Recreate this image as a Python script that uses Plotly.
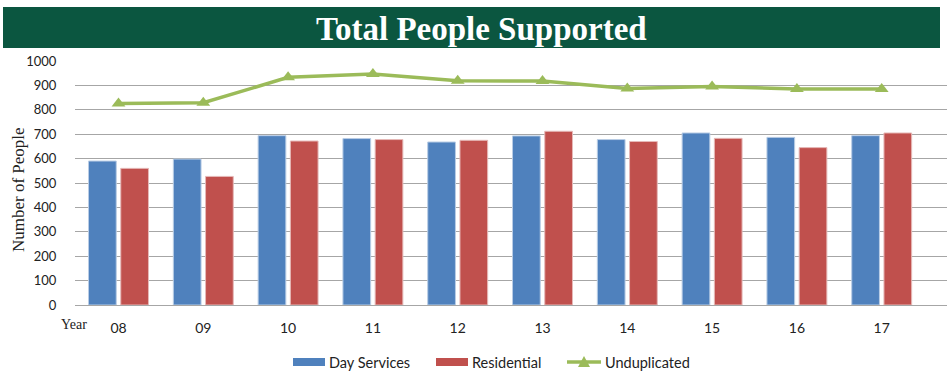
import plotly.graph_objects as go

# Fiscal years (two-digit labels)
years = ["08", "09", "10", "11", "12", "13", "14", "15", "16", "17"]

# People supported per year
day_services = [590, 598, 694, 682, 668, 693, 678, 705, 687, 694]
residential = [560, 527, 672, 678, 675, 712, 670, 683, 645, 705]
unduplicated = [826, 829, 933, 947, 919, 918, 887, 895, 885, 885]

y_ticks = list(range(0, 1001, 100))

BLUE = "#4F81BD"
RED = "#C0504D"
GREEN = "#9BBB59"
BANNER = "#0B5640"
TEXT = "#222222"

W, H = 947, 373
ML, MR, MT, MB = 75, 0, 61, 68
PW, PH = W - ML - MR, H - MT - MB


def px_x(x):
    """Pixel column -> paper x."""
    return (x - ML) / PW


def px_y(y):
    """Pixel row -> paper y."""
    return (H - MB - y) / PH


fig = go.Figure()
fig.add_trace(go.Bar(
    x=years, y=day_services, name="Day Services", showlegend=False,
    marker=dict(color=BLUE, line=dict(color="#B9CDE5", width=1)),
))
fig.add_trace(go.Bar(
    x=years, y=residential, name="Residential", showlegend=False,
    marker=dict(color=RED, line=dict(color="#E6B9B8", width=1)),
))
fig.add_trace(go.Scatter(
    x=years, y=unduplicated, name="Unduplicated", mode="lines+markers",
    showlegend=False,
    line=dict(color=GREEN, width=3.5),
    marker=dict(symbol="triangle-up", size=12, color=GREEN),
))

shapes = []
annotations = []

# Title banner
shapes.append(dict(type="rect", xref="paper", yref="paper",
                   x0=px_x(3), x1=px_x(940), y0=px_y(48), y1=px_y(7),
                   fillcolor=BANNER, line=dict(width=0), layer="below"))
annotations.append(dict(
    text="<b>Total People Supported</b>", xref="paper", yref="paper",
    x=px_x(481), y=px_y(29), showarrow=False, xanchor="center", yanchor="middle",
    font=dict(family="Liberation Serif", size=33, color="white"),
))
annotations.append(dict(
    text="Year", xref="paper", yref="paper", x=px_x(89), y=px_y(324),
    xanchor="right", yanchor="middle", showarrow=False,
    font=dict(family="Liberation Serif", size=14, color=TEXT),
))
# Vertical axis caption
annotations.append(dict(
    text="Number of People", xref="paper", yref="paper", x=px_x(18), y=px_y(190),
    xanchor="center", yanchor="middle", showarrow=False, textangle=-90,
    font=dict(family="Liberation Serif", size=17, color=TEXT),
))

# Legend row drawn beneath the axis
legend_items = [
    ("Day Services", BLUE, "bar", 293),
    ("Residential", RED, "bar", 436),
    ("Unduplicated", GREEN, "line", 567),
]
ly = 362
for label, color, kind, x0 in legend_items:
    if kind == "bar":
        shapes.append(dict(type="rect", xref="paper", yref="paper",
                           x0=px_x(x0), x1=px_x(x0 + 32),
                           y0=px_y(ly + 4), y1=px_y(ly - 4),
                           fillcolor=color, line=dict(width=0)))
        tx = x0 + 34
    else:
        shapes.append(dict(type="line", xref="paper", yref="paper",
                           x0=px_x(x0), x1=px_x(x0 + 34),
                           y0=px_y(ly), y1=px_y(ly),
                           line=dict(color=color, width=3.5)))
        shapes.append(dict(type="path", xref="paper", yref="paper",
                           path=(f"M {px_x(x0 + 17 - 6)} {px_y(ly + 5)} "
                                 f"L {px_x(x0 + 17 + 6)} {px_y(ly + 5)} "
                                 f"L {px_x(x0 + 17)} {px_y(ly - 6)} Z"),
                           fillcolor=color, line=dict(width=0)))
        tx = x0 + 36
    annotations.append(dict(
        text=label, xref="paper", yref="paper", x=px_x(tx), y=px_y(ly),
        xanchor="left", yanchor="middle", showarrow=False,
        font=dict(family="Lato", size=14.5, color=TEXT),
    ))

fig.update_layout(
    width=W, height=H,
    margin=dict(l=ML, r=MR, t=MT, b=MB),
    paper_bgcolor="white", plot_bgcolor="white",
    barmode="group", bargap=0.24, bargroupgap=0.14,
    font=dict(family="Lato", size=14, color=TEXT),
    showlegend=False,
    shapes=shapes, annotations=annotations,
    xaxis=dict(type="category", range=[-0.513, 9.77], showgrid=False,
               showline=False, ticks="outside", ticklen=10,
               tickcolor="rgba(0,0,0,0)", automargin=False,
               tickfont=dict(family="Lato", size=14, color=TEXT)),
    yaxis=dict(range=[0, 1000], tickvals=y_ticks, showgrid=True,
               gridcolor="#A6A6A6", gridwidth=1, zeroline=True,
               zerolinecolor="#A6A6A6", zerolinewidth=1, showline=False,
               ticks="outside", ticklen=15, tickcolor="rgba(0,0,0,0)",
               automargin=False,
               tickfont=dict(family="Lato", size=13, color=TEXT)),
)

fig.write_html("out.html")
